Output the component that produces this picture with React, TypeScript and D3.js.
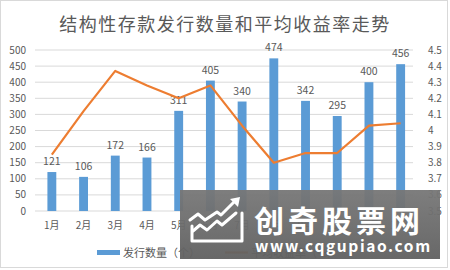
import React from "react";
import * as d3 from "d3";

const months = ["1月", "2月", "3月", "4月", "5月", "6月", "7月", "8月", "9月", "10月", "11月", "12月"];
const counts = [121, 106, 172, 166, 311, 405, 340, 474, 342, 295, 400, 456];
const yields = [3.85, 4.12, 4.37, 4.28, 4.2, 4.28, 4.03, 3.8, 3.86, 3.86, 4.03, 4.045];
const leftTicks = [0, 50, 100, 150, 200, 250, 300, 350, 400, 450, 500];
const rightTicks = [3.5, 3.6, 3.7, 3.8, 3.9, 4, 4.1, 4.2, 4.3, 4.4, 4.5];
const title = "结构性存款发行数量和平均收益率走势";
const legendBar = "发行数量（个）";
const legendLine = "平均收益率（%）";
const wmName = "创奇股票网";
const wmUrl = "www.cqgupiao.com";

export default function App() {
  const W = 450, H = 270;
  const x = d3.scaleBand<string>().domain(months).range([36, 416.5]).paddingInner(0.72).paddingOuter(0.36);
  const yL = d3.scaleLinear().domain([0, 500]).range([211, 50]);
  const yR = d3.scaleLinear().domain([3.5, 4.5]).range([211, 50]);
  const cx = (m: string) => (x(m) as number) + x.bandwidth() / 2;
  const line = d3.line<number>().x((_, i) => cx(months[i])).y((d) => yR(d));
  const font = "'Microsoft YaHei','Noto Sans CJK SC','DejaVu Sans',sans-serif";
  const gray = "#595959";
  return (
    <svg width={W} height={H} style={{ position: "absolute", left: 0, top: 0 }} fontFamily={font}>
      <rect x={0.5} y={0.5} width={W - 3} height={H - 3} fill="#fff" stroke="#d9d9d9" />
      <text x={225} y={31} textAnchor="middle" fontSize={18} fill={gray} letterSpacing={1.5}>{title}</text>
      {leftTicks.map((t) => (
        <g key={t}>
          <line x1={35} x2={413} y1={yL(t)} y2={yL(t)} stroke="#d9d9d9" strokeWidth={1} />
          <text x={26} y={yL(t) + 3.5} textAnchor="end" fontSize={10} fill={gray}>{t}</text>
        </g>
      ))}
      {rightTicks.map((t) => (
        <text key={t} x={428} y={yR(t) + 3.5} textAnchor="start" fontSize={10} fill={gray}>{t}</text>
      ))}
      {months.map((m, i) => (
        <g key={m}>
          <rect x={x(m)} y={yL(counts[i])} width={x.bandwidth()} height={yL(0) - yL(counts[i])} fill="#5b9bd5" />
          <text x={cx(m)} y={yL(counts[i]) - 7} textAnchor="middle" fontSize={10.5} fill={gray}>{counts[i]}</text>
          <text x={cx(m)} y={229} textAnchor="middle" fontSize={10} fill={gray}>{m}</text>
        </g>
      ))}
      <path d={line(yields) || ""} fill="none" stroke="#ed7d31" strokeWidth={2.2} strokeLinejoin="round" />
      <rect x={97} y={250} width={23} height={5} fill="#5b9bd5" />
      <text x={123} y={256.5} fontSize={11} fill={gray}>{legendBar}</text>
      <line x1={225} x2={248} y1={252.5} y2={252.5} stroke="#ed7d31" strokeWidth={2.2} />
      <text x={251} y={256.5} fontSize={11} fill={gray}>{legendLine}</text>
      <g>
        <defs>
          <linearGradient id="wmg" x1="0" y1="0" x2="0" y2="1">
            <stop offset="0" stopColor="#777" />
            <stop offset="1" stopColor="#606060" />
          </linearGradient>
        </defs>
        <rect x={180} y={190} width={260} height={69} fill="url(#wmg)" opacity={0.95} />
        <path d="M192,226 L192,241 L242,241 L242,213" fill="none" stroke="#fff" strokeWidth={3} strokeLinejoin="round" strokeLinecap="round" />
        <path d="M190,220 L198,214 L205,220 L217,212 L221,215 L235,201" fill="none" stroke="#fff" strokeWidth={3} strokeLinejoin="round" strokeLinecap="round" />
        <path d="M193,231 L200,225 L207,230 L217,221 L222,225 L236,213" fill="none" stroke="#fff" strokeWidth={3} strokeLinejoin="round" strokeLinecap="round" />
        <path d="M230,199 L240,197 L238,207 Z" fill="#fff" />
        <text x={254} y={232} fontSize={30} fontWeight="bold" fill="#fff" letterSpacing={4}>{wmName}</text>
        <text x={255} y={252} fontSize={15.5} fontWeight="bold" fill="#fff" letterSpacing={1.6}>{wmUrl}</text>
      </g>
    </svg>
  );
}
